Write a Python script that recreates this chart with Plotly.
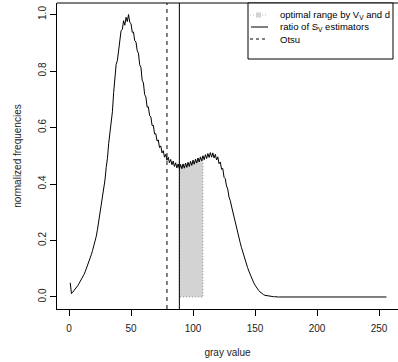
import plotly.graph_objects as go

# ---- data ----
gray = list(range(1, 257))
freq = [
    0.050, 0.012, 0.017, 0.022, 0.028, 0.034, 0.040, 0.047, 0.054, 0.062,
    0.070, 0.079, 0.089, 0.100, 0.110, 0.122, 0.135, 0.150, 0.165, 0.180,
    0.197, 0.215, 0.240, 0.268, 0.296, 0.325, 0.355, 0.385, 0.414, 0.459,
    0.491, 0.544, 0.576, 0.619, 0.656, 0.724, 0.776, 0.823, 0.837, 0.878,
    0.897, 0.943, 0.947, 0.978, 0.962, 0.990, 0.975, 1.000, 0.972, 0.968,
    0.937, 0.938, 0.907, 0.903, 0.872, 0.863, 0.822, 0.813, 0.767, 0.758,
    0.717, 0.708, 0.672, 0.673, 0.642, 0.638, 0.607, 0.608, 0.577, 0.578,
    0.552, 0.556, 0.529, 0.535, 0.510, 0.518, 0.495, 0.505, 0.484, 0.495,
    0.475, 0.487, 0.468, 0.481, 0.462, 0.475, 0.457, 0.471, 0.454, 0.469,
    0.454, 0.471, 0.456, 0.474, 0.459, 0.477, 0.462, 0.480, 0.466, 0.484,
    0.470, 0.488, 0.474, 0.492, 0.478, 0.496, 0.482, 0.500, 0.486, 0.504,
    0.490, 0.508, 0.494, 0.511, 0.495, 0.510, 0.492, 0.505, 0.485, 0.496,
    0.472, 0.478, 0.452, 0.455, 0.424, 0.419, 0.393, 0.382, 0.354, 0.342,
    0.322, 0.302, 0.283, 0.265, 0.246, 0.228, 0.210, 0.193, 0.176, 0.160,
    0.145, 0.131, 0.117, 0.104, 0.092, 0.080, 0.069, 0.059, 0.050, 0.042,
    0.034, 0.028, 0.023, 0.018, 0.014, 0.011, 0.008, 0.006, 0.005, 0.004,
    0.003, 0.002, 0.002, 0.001, 0.001, 0.001,
] + [0.0] * 90

range_lo, range_hi = 89, 108      # optimal range by Vv and d
ratio_sv = 89                     # ratio of Sv estimators
otsu = 79                         # Otsu threshold

x_ticks = [0, 50, 100, 150, 200, 250]
y_ticks = [0.0, 0.2, 0.4, 0.6, 0.8, 1.0]
legend_labels = ["optimal range by V<sub>V</sub> and d",
                 "ratio of S<sub>V</sub> estimators",
                 "Otsu"]

# ---- layout geometry (pixels) ----
W, H = 398, 362
L, R, T, B = 57, 0, 3, 53
PW, PH = W - L - R, H - T - B
FONT = "Liberation Sans, Arial"


def px(x):
    return (x - L) / PW


def py(y):
    return (H - B - y) / PH


fig = go.Figure()

# shaded optimal range
i0, i1 = gray.index(range_lo), gray.index(range_hi)
sx = [range_lo] + gray[i0:i1 + 1] + [range_hi, range_lo]
sy = [0] + freq[i0:i1 + 1] + [0, 0]
fig.add_trace(go.Scatter(x=sx, y=sy, mode="lines", fill="toself",
                         fillcolor="#d3d3d3",
                         line=dict(color="#999999", width=1, dash="1px,2px"),
                         hoverinfo="skip", showlegend=False))

fig.add_trace(go.Scatter(x=gray, y=freq, mode="lines",
                         line=dict(color="black", width=1),
                         showlegend=False))

shapes = [
    dict(type="line", xref="x", yref="paper", x0=ratio_sv, x1=ratio_sv, y0=0, y1=1,
         line=dict(color="black", width=1)),
    dict(type="line", xref="x", yref="paper", x0=otsu, x1=otsu, y0=0, y1=1,
         line=dict(color="black", width=1, dash="4px,4px")),
    # top border of box
    dict(type="line", xref="paper", yref="paper", x0=0, x1=1, y0=1, y1=1,
         line=dict(color="black", width=1)),
    # legend box
    dict(type="rect", xref="paper", yref="paper", x0=px(248), x1=px(393),
         y0=py(59), y1=py(3), line=dict(color="black", width=1),
         fillcolor="white", layer="above"),
]
rows = [15, 27, 39]
shapes += [
    dict(type="line", xref="paper", yref="paper", x0=px(250), x1=px(268),
         y0=py(rows[0]), y1=py(rows[0]),
         line=dict(color="#bbbbbb", width=1, dash="1px,2px"), layer="above"),
    dict(type="rect", xref="paper", yref="paper", x0=px(256), x1=px(261),
         y0=py(rows[0] + 2.5), y1=py(rows[0] - 2.5),
         line=dict(width=0), fillcolor="#d3d3d3", layer="above"),
    dict(type="line", xref="paper", yref="paper", x0=px(251), x1=px(268),
         y0=py(rows[1]), y1=py(rows[1]),
         line=dict(color="black", width=1), layer="above"),
    dict(type="line", xref="paper", yref="paper", x0=px(250), x1=px(268),
         y0=py(rows[2]), y1=py(rows[2]),
         line=dict(color="black", width=1, dash="3px,3px"), layer="above"),
]

annotations = [
    dict(xref="paper", yref="paper", x=px(278), y=py(r), text=t, showarrow=False,
         xanchor="left", yanchor="middle",
         font=dict(family=FONT, size=9.5, color="black"))
    for r, t in zip(rows, legend_labels)
]

fig.update_layout(
    width=W, height=H,
    margin=dict(l=L, r=R, t=T, b=B),
    paper_bgcolor="white", plot_bgcolor="white",
    font=dict(family=FONT, size=10, color="#222"),
    shapes=shapes, annotations=annotations,
    showlegend=False,
    xaxis=dict(range=[-9.68, 265.3], tickvals=x_ticks, ticks="outside", ticklen=6,
               tickcolor="black", showline=True, linecolor="black", linewidth=1,
               showgrid=False, zeroline=False, ticklabelstandoff=4,
               title=dict(text="gray value", standoff=15,
                          font=dict(family=FONT, size=10, color="#222"))),
    yaxis=dict(range=[-0.0425, 1.0407], tickvals=y_ticks,
               ticktext=[f"{v:.1f}" for v in y_ticks], tickangle=-90,
               ticks="outside", ticklen=6, tickcolor="black", showline=True,
               linecolor="black", linewidth=1, showgrid=False, zeroline=False,
               title=dict(text="normalized frequencies", standoff=13,
                          font=dict(family=FONT, size=10, color="#222"))),
)

fig.write_html("out.html")
